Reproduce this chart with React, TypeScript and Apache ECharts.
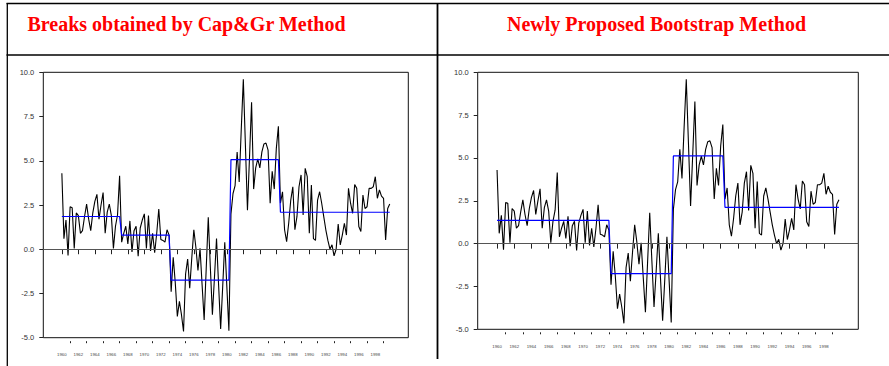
import React, { useEffect, useRef } from "react";
import * as echarts from "echarts";

// Quarterly series, 1960Q1 - 1999Q4 (four values per year)
const values1960s = [
  4.3, 0.6, 1.65, -0.35,
  2.4, 2.35, 0.05, 2.05,
  1.9, 0.9, 1.05, 1.85,
  2.55, 1.7, 1.05, 2.05,
  2.7, 3.1, 1.7, 2.5,
  3.2, 0.9, 2.1, 2.55,
  1.9, 0.05, 1.3, 1.95,
  4.15, 0.4, 0.9, 1.3,
  0.3, 1.6, -0.15, 1.05,
  1.3, -0.4, 1.2, 1.65,
];
const values1970s = [
  2.0, 0.05, 1.9, -0.1,
  0.9, -0.2, 0.9, 2.27,
  0.55, 0.5, 0.4, 1.1,
  0.8, -2.4, -0.45, -1.9,
  -3.8, -2.95, -3.7, -4.65,
  -1.4, -0.55, -2.2, -0.5,
  1.1, 0.1, -1.2, 0.05,
  -2.0, -4.0, -1.1, 1.8,
  -1.0, -3.7, -1.6, 0.6,
  -2.0, -4.5, -2.1, 0.4,
];
const values1980s = [
  -2.1, -4.6, 2.0, 3.15,
  3.6, 5.5, 3.8, 6.8,
  9.6, 5.9, 2.2, 5.2,
  8.3, 3.4, 4.6, 5.1,
  4.6, 5.5, 5.95, 6.0,
  5.6, 2.6, 4.4, 3.4,
  5.7, 6.95, 2.6, 3.25,
  1.1, 0.43, 1.47, 2.78,
  3.53, 1.1, 1.84, 3.53,
  4.2, 1.94, 4.57, 4.1,
];
const values1990s = [
  0.9, 3.63, 0.6, 0.5,
  2.78, 3.25, 2.6, 1.84,
  1.1, 0.5, 0.0, 0.25,
  -0.38, 0.0, 1.43, 0.24,
  0.8, 1.47, 0.8, 3.44,
  2.6, 2.03, 3.66, 3.44,
  1.28, 1.0, 3.06, 2.3,
  2.4, 3.44, 3.44, 3.53,
  4.1, 2.88, 3.35, 3.0,
  2.88, 0.53, 2.3, 2.56,
];

const startYear = 1960;
const series = [...values1960s, ...values1970s, ...values1980s, ...values1990s];

// Break dates (first quarter of each regime) and regime means
const capGrRegimeStarts = ["1960Q1", "1967Q2", "1973Q2", "1980Q3", "1986Q3"];
const capGrMeans = [1.85, 0.8, -1.75, 5.07, 2.09];
const bootRegimeStarts = ["1960Q1", "1973Q2", "1980Q3", "1986Q3"];
const bootMeans = [1.36, -1.75, 5.12, 2.12];

const majorTickYears = [1960, 1962, 1964, 1966, 1968, 1970, 1972, 1974, 1976, 1978, 1980, 1982, 1984, 1986, 1988, 1990, 1992, 1994, 1996, 1998];
const minorTickYears = [1961, 1963, 1965, 1967, 1969, 1971, 1973, 1975, 1977, 1979, 1981, 1983, 1985, 1987, 1989, 1991, 1993, 1995, 1997, 1999];

const yMin = -5;
const yMax = 10;
const yStep = 2.5;

const titleLeft = "Breaks obtained by Cap&Gr Method";
const titleRight = "Newly Proposed Bootstrap Method";

const quarterIndex = (s: string) => {
  const [y, q] = s.split("Q");
  return (parseInt(y, 10) - startYear) * 4 + parseInt(q, 10) - 1;
};
const timeOf = (i: number) => startYear + i / 4;
const seriesData = series.map((v, i) => [timeOf(i), v]);
const fitted = (starts: string[], means: number[]) => {
  const idx = starts.map(quarterIndex);
  return series.map((_, i) => {
    let k = 0;
    for (let j = 0; j < idx.length; j++) if (i >= idx[j]) k = j;
    return [timeOf(i), means[k]];
  });
};

const X_MIN = 1957.75;
const X_MAX = 2002;

export default function App() {
  const ref = useRef<HTMLDivElement>(null);
  useEffect(() => {
    if (!ref.current) return;
    const chart = echarts.init(ref.current, undefined, { renderer: "svg" });
    const axisFont = "'Liberation Sans', Arial, Helvetica, sans-serif";
    const xAxes = (gridIndex: number, offset: number, margin: number) => [
      {
        gridIndex,
        type: "value",
        min: X_MIN,
        max: X_MAX,
        position: "bottom",
        offset,
        axisLine: { show: false },
        splitLine: { show: false },
        axisTick: { show: true, customValues: majorTickYears, length: 5, lineStyle: { color: "#222", width: 1 } },
        axisLabel: {
          show: true,
          customValues: majorTickYears,
          formatter: (v: number) => String(Math.round(v)),
          fontSize: 4.3,
          color: "#444",
          margin,
          fontFamily: axisFont,
        },
      },
      {
        gridIndex,
        type: "value",
        min: X_MIN,
        max: X_MAX,
        position: "bottom",
        offset,
        axisLine: { show: false },
        splitLine: { show: false },
        axisTick: { show: true, customValues: minorTickYears, length: 2, lineStyle: { color: "#222", width: 1 } },
        axisLabel: { show: false },
      },
    ];
    const yAxis = (gridIndex: number) => ({
      gridIndex,
      type: "value",
      min: yMin,
      max: yMax,
      interval: yStep,
      axisLine: { show: false },
      splitLine: { show: false },
      axisTick: { show: true, length: 4, lineStyle: { color: "#222" } },
      axisLabel: { formatter: (v: number) => v.toFixed(1), fontSize: 7.5, color: "#333", margin: 9, fontFamily: axisFont },
    });
    const zeroLine = {
      silent: true,
      symbol: ["none", "none"],
      label: { show: false },
      lineStyle: { color: "#555", width: 1.2, type: "solid" },
      data: [{ yAxis: 0 }],
    };
    const lineSeries = (xAxisIndex: number, yAxisIndex: number) => ({
      type: "line",
      xAxisIndex,
      yAxisIndex,
      data: seriesData,
      showSymbol: false,
      symbol: "none",
      lineStyle: { color: "#000", width: 1.1 },
      markLine: zeroLine,
      z: 2,
    });
    const stepSeries = (xAxisIndex: number, yAxisIndex: number, data: number[][]) => ({
      type: "line",
      xAxisIndex,
      yAxisIndex,
      data,
      showSymbol: false,
      symbol: "none",
      lineStyle: { color: "#0000ff", width: 1.2 },
      z: 3,
    });
    chart.setOption({
      animation: false,
      backgroundColor: "#fff",
      grid: [
        { left: 43.3, top: 72.3, width: 365, height: 265.4, show: true, borderColor: "#111", borderWidth: 1, backgroundColor: "transparent" },
        { left: 477.7, top: 72.3, width: 380.6, height: 257, show: true, borderColor: "#111", borderWidth: 1, backgroundColor: "transparent" },
      ],
      xAxis: [...xAxes(0, 3.5, 11), ...xAxes(1, 3, 12)],
      yAxis: [yAxis(0), yAxis(1)],
      series: [
        lineSeries(0, 0),
        stepSeries(0, 0, fitted(capGrRegimeStarts, capGrMeans)),
        lineSeries(2, 1),
        stepSeries(2, 1, fitted(bootRegimeStarts, bootMeans)),
      ],
      graphic: [
        { type: "line", shape: { x1: 6.5, y1: 3.5, x2: 889, y2: 3.5 }, style: { stroke: "#000", lineWidth: 1.5 } },
        { type: "line", shape: { x1: 6.5, y1: 55, x2: 889, y2: 55 }, style: { stroke: "#000", lineWidth: 1.3 } },
        { type: "line", shape: { x1: 7.3, y1: 3, x2: 7.3, y2: 366 }, style: { stroke: "#000", lineWidth: 1.3 } },
        { type: "line", shape: { x1: 437.5, y1: 3, x2: 437.5, y2: 359 }, style: { stroke: "#000", lineWidth: 1.8 } },
        {
          type: "text",
          x: 186.5,
          y: 24,
          style: { text: titleLeft, fill: "#ff0000", fontSize: 20, fontWeight: "bold", fontFamily: "'Liberation Serif', 'Times New Roman', serif", align: "center", verticalAlign: "middle" },
        },
        {
          type: "text",
          x: 656.5,
          y: 24,
          style: { text: titleRight, fill: "#ff0000", fontSize: 20, fontWeight: "bold", fontFamily: "'Liberation Serif', 'Times New Roman', serif", align: "center", verticalAlign: "middle" },
        },
      ],
    });
    return () => chart.dispose();
  }, []);
  return <div ref={ref} style={{ position: "absolute", left: 0, top: 0, width: 889, height: 366, background: "#fff" }} />;
}
